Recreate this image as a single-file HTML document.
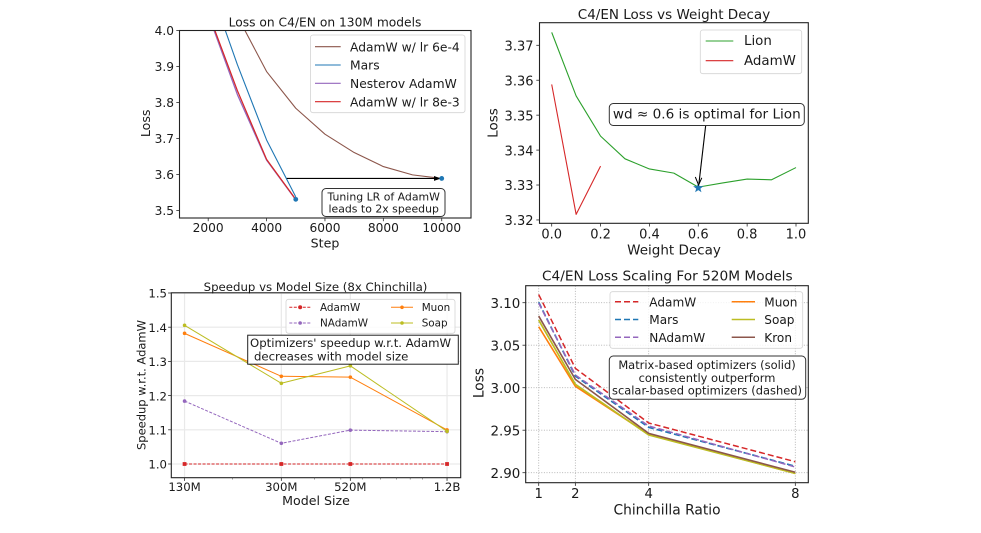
<!DOCTYPE html>
<html lang="en">
<head>
<meta charset="utf-8">
<title>Optimizer comparison charts</title>
<style>
html,body{margin:0;padding:0;background:#fff;width:981px;height:533px;overflow:hidden}
svg{display:block;font-family:"DejaVu Sans","Liberation Sans",sans-serif;filter:blur(0.3px)}
text{fill:#1a1a1a}
</style>
</head>
<body>
<svg id="figure" width="981" height="533" viewBox="0 0 981 533" xmlns="http://www.w3.org/2000/svg"></svg>
<script>
// Chart 1: Loss on C4/EN on 130M models
const lossSteps = [2000, 3000, 4000, 5000, 6000, 7000, 8000, 9000, 10000];
const lossStepsShort = [2000, 3000, 4000, 5000];
const adamw6e4Loss = [4.2, 4.04, 3.886, 3.784, 3.712, 3.661, 3.622, 3.599, 3.589];
const marsLoss = [4.135, 3.905, 3.696, 3.538];
const nesterovLoss = [4.045, 3.822, 3.64, 3.53];
const adamw8e3Loss = [4.05, 3.833, 3.642, 3.531];
const lossXTicks = [2000, 4000, 6000, 8000, 10000];
const lossYTicks = [3.5, 3.6, 3.7, 3.8, 3.9, 4.0];

// Chart 2: C4/EN Loss vs Weight Decay
const lionDecay = [0, 0.1, 0.2, 0.3, 0.4, 0.5, 0.6, 0.7, 0.8, 0.9, 1.0];
const lionWdLoss = [3.3737, 3.3555, 3.344, 3.3375, 3.3346, 3.3334, 3.3294, 3.3306, 3.3317, 3.3315, 3.335];
const adamwDecay = [0, 0.1, 0.2];
const adamwWdLoss = [3.3588, 3.3216, 3.3354];
const wdXTicks = [0, 0.2, 0.4, 0.6, 0.8, 1.0];
const wdYTicks = [3.32, 3.33, 3.34, 3.35, 3.36, 3.37];

// Chart 3: Speedup vs Model Size
const modelSizes = [133, 302, 542, 1230];
const modelSizeLabels = ['130M', '300M', '520M', '1.2B'];
const modelMinorTicks = [200, 400, 500, 600, 700, 800, 900, 1000];
const adamwSpeedup = [1.0, 1.0, 1.0, 1.0];
const nadamwSpeedup = [1.184, 1.0605, 1.099, 1.0945];
const muonSpeedup = [1.382, 1.2565, 1.254, 1.0995];
const soapSpeedup = [1.4055, 1.236, 1.287, 1.0955];
const speedupYTicks = [1.0, 1.1, 1.2, 1.3, 1.4, 1.5];

// Chart 4: C4/EN Loss Scaling For 520M Models
const chinchillaRatios = [1, 2, 4, 8];
const adamwScaling = [3.1096, 3.0228, 2.9585, 2.9129];
const marsScaling = [3.1005, 3.0137, 2.9534, 2.9075];
const nadamwScaling = [3.0995, 3.0149, 2.955, 2.9067];
const muonScaling = [3.0718, 3.0016, 2.9452, 2.8992];
const soapScaling = [3.0796, 3.004, 2.9444, 2.8992];
const kronScaling = [3.0843, 3.0098, 2.9463, 2.9005];
const scalingYTicks = [2.90, 2.95, 3.00, 3.05, 3.10];

const RED = '#d62728', BLUE = '#1f77b4', PURPLE = '#9467bd', BROWN = '#8c564b',
      ORANGE = '#ff7f0e', OLIVE = '#bcbd22', GREEN = '#2ca02c';
const NS = 'http://www.w3.org/2000/svg';
const root = document.getElementById('figure');

function node(parent, tag, attrs, name) {
  const el = document.createElementNS(NS, tag);
  for (const k in attrs) el.setAttribute(k, attrs[k]);
  
  
  parent.appendChild(el);
  return el;
}
function group(parent, name) { return node(parent, 'g', {}, name); }
function label(parent, str, x, y, size, anchor, name, rotate) {
  const a = {x: x, y: rotate ? y : y + 0.7, 'font-size': size, 'text-anchor': anchor || 'middle', 'dominant-baseline': 'central'};
  if (rotate) a.transform = 'rotate(-90 ' + x + ' ' + y + ')';
  const t = node(parent, 'text', a, name);
  t.setAttribute('xml:space', 'preserve');
  t.textContent = str;
  return t;
}
function seg(parent, x1, y1, x2, y2, stroke, w, name, dash) {
  const a = {x1: x1, y1: y1, x2: x2, y2: y2, stroke: stroke, 'stroke-width': w};
  if (dash) a['stroke-dasharray'] = dash;
  return node(parent, 'line', a, name);
}
function polyline(parent, xs, ys, sx, sy, stroke, w, name, dash, clip) {
  const pts = xs.map((x, i) => sx(x).toFixed(2) + ',' + sy(ys[i]).toFixed(2)).join(' ');
  const a = {points: pts, fill: 'none', stroke: stroke, 'stroke-width': w, 'stroke-linejoin': 'round'};
  if (dash) a['stroke-dasharray'] = dash;
  if (clip) a['clip-path'] = 'url(#' + clip + ')';
  return node(parent, 'polyline', a, name);
}
function frame(parent, box, clipId) {
  const defs = document.createElementNS(NS, 'defs');
  const cp = document.createElementNS(NS, 'clipPath');
  cp.setAttribute('id', clipId);
  const r = document.createElementNS(NS, 'rect');
  r.setAttribute('x', box.l); r.setAttribute('y', box.t);
  r.setAttribute('width', box.r - box.l); r.setAttribute('height', box.b - box.t);
  cp.appendChild(r); defs.appendChild(cp); parent.appendChild(defs);
}
function spines(parent, box) {
  node(parent, 'rect', {x: box.l, y: box.t, width: box.r - box.l, height: box.b - box.t, fill: 'none', stroke: '#222', 'stroke-width': 1.1}, 'axes-frame');
}
function legendBox(parent, x, y, w, h) {
  node(parent, 'rect', {x: x, y: y, width: w, height: h, rx: 2.5, fill: '#fff', 'fill-opacity': 0.8, stroke: '#d4d4d4', 'stroke-width': 0.8}, 'legend-frame');
}
function legendEntry(parent, name, text, x1, x2, tx, y, color, w, size, dash, marker) {
  const g = group(parent, name);
  seg(g, x1, y, x2, y, color, w, name + '-handle', dash);
  if (marker) node(g, 'circle', {cx: (x1 + x2) / 2, cy: y, r: marker, fill: color}, name + '-marker');
  label(g, text, tx, y, size, 'start', name + '-label');
}
function annotationBox(parent, name, x, y, w, h, rx, lines, size, anchor, tx, border) {
  const g = group(parent, name);
  node(g, 'rect', {x: x, y: y, width: w, height: h, rx: rx, fill: '#fff', stroke: border, 'stroke-width': 1}, name + '-box');
  lines.forEach(function (ln) { label(g, ln.t, ln.x === undefined ? tx : ln.x, ln.y, size, anchor, name + '-text'); });
}

/* ---------- Chart 1 ---------- */
(function () {
  const box = {l: 179.5, r: 471, t: 30.5, b: 218};
  const sx = v => 208.2 + (v - 2000) * 0.02919;
  const sy = v => 30.5 + (4 - v) * 360;
  const g = group(root, 'loss-vs-step-chart');
  frame(g, box, 'clip1');
  node(g, 'rect', {x: box.l, y: box.t, width: box.r - box.l, height: box.b - box.t, fill: '#fff'}, 'plot-area');
  const lines = group(g, 'loss-series');
  polyline(lines, lossSteps, adamw6e4Loss, sx, sy, BROWN, 1.1, 'series-adamw-lr-6e-4', null, 'clip1');
  polyline(lines, lossStepsShort, marsLoss, sx, sy, BLUE, 1.1, 'series-mars', null, 'clip1');
  polyline(lines, lossStepsShort, nesterovLoss, sx, sy, PURPLE, 1.3, 'series-nesterov-adamw', null, 'clip1');
  polyline(lines, lossStepsShort, adamw8e3Loss, sx, sy, RED, 1.2, 'series-adamw-lr-8e-3', null, 'clip1');
  const ay = sy(adamw6e4Loss[8]);
  seg(g, 286.7, ay, 436, ay, '#000', 1.1, 'speedup-arrow-shaft');
  node(g, 'polygon', {points: '441,' + ay + ' 434,' + (ay - 2.4) + ' 434,' + (ay + 2.4), fill: '#000'}, 'speedup-arrow-head');
  node(g, 'circle', {cx: sx(lossSteps[8]), cy: ay, r: 2.4, fill: BLUE}, 'end-marker-adamw-6e-4');
  node(g, 'circle', {cx: sx(lossStepsShort[3]), cy: sy(adamw8e3Loss[3]), r: 2.4, fill: BLUE}, 'end-marker-adamw-8e-3');
  spines(g, box);
  lossXTicks.forEach(function (v) {
    seg(g, sx(v), box.b, sx(v), box.b + 3.2, '#2a2a2a', 0.8, 'x-tick');
    label(g, String(v), sx(v), 227.5, 12.2, 'middle', 'x-tick-label');
  });
  lossYTicks.forEach(function (v) {
    seg(g, box.l - 3.2, sy(v), box.l, sy(v), '#2a2a2a', 0.8, 'y-tick');
    label(g, v.toFixed(1), 174, sy(v), 12.2, 'end', 'y-tick-label');
  });
  label(g, 'Loss on C4/EN on 130M models', 325, 22, 12.25, 'middle', 'chart-title');
  label(g, 'Step', 325, 242.5, 12.6, 'middle', 'x-axis-title');
  label(g, 'Loss', 145.7, 123.3, 12.6, 'middle', 'y-axis-title', true);
  const lg = group(g, 'legend');
  legendBox(lg, 310.5, 35, 154.5, 77.7);
  legendEntry(lg, 'legend-entry-adamw-6e-4', 'AdamW w/ lr 6e-4', 315, 340.7, 350, 46.7, BROWN, 1.1, 12.3);
  legendEntry(lg, 'legend-entry-mars', 'Mars', 315, 340.7, 350, 65, BLUE, 1.1, 12.3);
  legendEntry(lg, 'legend-entry-nesterov', 'Nesterov AdamW', 315, 340.7, 350, 83.3, PURPLE, 1.1, 12.3);
  legendEntry(lg, 'legend-entry-adamw-8e-3', 'AdamW w/ lr 8e-3', 315, 340.7, 350, 101.7, RED, 1.1, 12.3);
  annotationBox(g, 'speedup-annotation', 322, 188.5, 123, 28, 4,
    [{t: 'Tuning LR of AdamW', y: 196.5}, {t: 'leads to 2x speedup', y: 208.5}], 10.9, 'middle', 383.7, '#333');
})();

/* ---------- Chart 2 ---------- */
(function () {
  const box = {l: 539.5, r: 808.3, t: 22.7, b: 223.3};
  const sx = v => 551.7 + v * 244.3;
  const sy = v => 45.3 + (3.37 - v) * 3493;
  const g = group(root, 'loss-vs-weight-decay-chart');
  frame(g, box, 'clip2');
  node(g, 'rect', {x: box.l, y: box.t, width: box.r - box.l, height: box.b - box.t, fill: '#fff'}, 'plot-area');
  polyline(g, lionDecay, lionWdLoss, sx, sy, GREEN, 1.1, 'series-lion', null, 'clip2');
  polyline(g, adamwDecay, adamwWdLoss, sx, sy, RED, 1.1, 'series-adamw', null, 'clip2');
  const cx = sx(lionDecay[6]), cy = sy(lionWdLoss[6]) + 0.8;
  const star = [];
  for (let i = 0; i < 10; i++) {
    const rad = i % 2 ? 2.2 : 5.4, ang = -Math.PI / 2 + i * Math.PI / 5;
    star.push((cx + rad * Math.cos(ang)).toFixed(2) + ',' + (cy + rad * Math.sin(ang)).toFixed(2));
  }
  node(g, 'polygon', {points: star.join(' '), fill: BLUE}, 'optimal-weight-decay-star');
  seg(g, 705.7, 125.3, 699, 183, '#000', 1.1, 'optimal-arrow-shaft');
  node(g, 'polyline', {points: '695.3,177 698.6,185 701.8,177.8', fill: 'none', stroke: '#000', 'stroke-width': 1}, 'optimal-arrow-head');
  spines(g, box);
  wdXTicks.forEach(function (v) {
    seg(g, sx(v), box.b, sx(v), box.b + 3.2, '#2a2a2a', 0.8, 'x-tick');
    label(g, v.toFixed(1), sx(v), 234.3, 13, 'middle', 'x-tick-label');
  });
  wdYTicks.forEach(function (v) {
    seg(g, box.l - 3.2, sy(v), box.l, sy(v), '#2a2a2a', 0.8, 'y-tick');
    label(g, v.toFixed(2), 533.5, sy(v) + 1, 13, 'end', 'y-tick-label');
  });
  label(g, 'C4/EN Loss vs Weight Decay', 674, 14.3, 13.5, 'middle', 'chart-title');
  label(g, 'Weight Decay', 674, 250, 13.5, 'middle', 'x-axis-title');
  label(g, 'Loss', 493.3, 123, 13.5, 'middle', 'y-axis-title', true);
  const lg = group(g, 'legend');
  legendBox(lg, 700.3, 30, 101.4, 43.7);
  legendEntry(lg, 'legend-entry-lion', 'Lion', 705.7, 733.3, 744, 41, GREEN, 1.1, 13.4);
  legendEntry(lg, 'legend-entry-adamw', 'AdamW', 705.7, 733.3, 744, 60.7, RED, 1.1, 13.4);
  annotationBox(g, 'optimal-annotation', 609.3, 103.5, 195, 22, 4,
    [{t: 'wd ≈ 0.6 is optimal for Lion', y: 114}], 13.6, 'middle', 706.8, '#333');
})();

/* ---------- Chart 3 ---------- */
(function () {
  const box = {l: 171.3, r: 460.7, t: 292.8, b: 477.7};
  const sx = v => 232.7 + Math.log(v / 200) * 118;
  const sy = v => 464 - (v - 1) * 342;
  const g = group(root, 'speedup-vs-model-size-chart');
  frame(g, box, 'clip3');
  node(g, 'rect', {x: box.l, y: box.t, width: box.r - box.l, height: box.b - box.t, fill: '#fff'}, 'plot-area');
  const grid = group(g, 'grid');
  modelSizes.forEach(function (v) { seg(grid, sx(v), box.t, sx(v), box.b, '#e9e9e9', 1.2, 'x-gridline'); });
  speedupYTicks.forEach(function (v) { seg(grid, box.l, sy(v), box.r, sy(v), '#e9e9e9', 1.2, 'y-gridline'); });
  function series(vals, color, name, dash, markerR, square) {
    const s = group(g, name);
    polyline(s, modelSizes, vals, sx, sy, color, 1, name + '-line', dash, 'clip3');
    vals.forEach(function (v, i) {
      if (square) node(s, 'rect', {x: sx(modelSizes[i]) - markerR, y: sy(v) - markerR, width: 2 * markerR, height: 2 * markerR, fill: color}, name + '-point');
      else node(s, 'circle', {cx: sx(modelSizes[i]), cy: sy(v), r: markerR, fill: color}, name + '-point');
    });
  }
  series(adamwSpeedup, RED, 'series-adamw', '3,1.5', 1.9, true);
  series(nadamwSpeedup, PURPLE, 'series-nadamw', '3,1.5', 1.8);
  series(muonSpeedup, ORANGE, 'series-muon', null, 1.8);
  series(soapSpeedup, OLIVE, 'series-soap', null, 1.8);
  spines(g, box);
  modelSizes.forEach(function (v, i) {
    seg(g, sx(v), box.b, sx(v), box.b + 3.2, '#2a2a2a', 0.8, 'x-tick');
    label(g, modelSizeLabels[i], sx(v), 486.3, 11.7, 'middle', 'x-tick-label');
  });
  modelMinorTicks.forEach(function (v) { seg(g, sx(v), box.b, sx(v), box.b + 1.8, '#555', 0.6, 'x-minor-tick'); });
  speedupYTicks.forEach(function (v) {
    seg(g, box.l - 3.2, sy(v), box.l, sy(v), '#2a2a2a', 0.8, 'y-tick');
    label(g, v.toFixed(1), 167, sy(v), 11.7, 'end', 'y-tick-label');
  });
  label(g, 'Speedup vs Model Size (8x Chinchilla)', 315.5, 286.3, 11.75, 'middle', 'chart-title');
  label(g, 'Model Size', 316, 500, 12.6, 'middle', 'x-axis-title');
  label(g, 'Speedup w.r.t. AdamW', 141.7, 385, 11.5, 'middle', 'y-axis-title', true);
  const lg = group(g, 'legend');
  legendBox(lg, 286, 299.3, 169, 34);
  legendEntry(lg, 'legend-entry-adamw', 'AdamW', 289.3, 311, 320, 307.3, RED, 1, 10.4, '3,1.5', 2);
  legendEntry(lg, 'legend-entry-nadamw', 'NAdamW', 289.3, 311, 320, 323, PURPLE, 1, 10.4, '3,1.5', 1.8);
  legendEntry(lg, 'legend-entry-muon', 'Muon', 391, 413, 421.7, 307.3, ORANGE, 1, 10.4, null, 1.8);
  legendEntry(lg, 'legend-entry-soap', 'Soap', 391, 413, 421.7, 323, OLIVE, 1, 10.4, null, 1.8);
  annotationBox(g, 'model-size-annotation', 247.7, 335.2, 210.6, 29, 0,
    [{t: "Optimizers' speedup w.r.t. AdamW", x: 250, y: 342.3}, {t: 'decreases with model size', x: 254, y: 355.7}], 11.7, 'start', 250, '#222');
})();

/* ---------- Chart 4 ---------- */
(function () {
  const box = {l: 525.7, r: 808.3, t: 285.7, b: 482.7};
  const sx = v => 538.7 + (v - 1) * 36.66;
  const sy = v => 472.7 - (v - 2.9) * 850;
  const g = group(root, 'loss-scaling-chart');
  frame(g, box, 'clip4');
  node(g, 'rect', {x: box.l, y: box.t, width: box.r - box.l, height: box.b - box.t, fill: '#fff'}, 'plot-area');
  const grid = group(g, 'grid');
  chinchillaRatios.forEach(function (v) { seg(grid, sx(v), box.t, sx(v), box.b, '#b0b0b0', 0.9, 'x-gridline', '1,1.6'); });
  scalingYTicks.forEach(function (v) { seg(grid, box.l, sy(v), box.r, sy(v), '#b0b0b0', 0.9, 'y-gridline', '1,1.6'); });
  polyline(g, chinchillaRatios, adamwScaling, sx, sy, RED, 1.5, 'series-adamw', '6,3', 'clip4');
  polyline(g, chinchillaRatios, marsScaling, sx, sy, BLUE, 1.7, 'series-mars', '6,3', 'clip4');
  polyline(g, chinchillaRatios, nadamwScaling, sx, sy, PURPLE, 1.5, 'series-nadamw', '6,3', 'clip4');
  polyline(g, chinchillaRatios, muonScaling, sx, sy, ORANGE, 1.6, 'series-muon', null, 'clip4');
  polyline(g, chinchillaRatios, soapScaling, sx, sy, OLIVE, 1.7, 'series-soap', null, 'clip4');
  polyline(g, chinchillaRatios, kronScaling, sx, sy, BROWN, 1.6, 'series-kron', null, 'clip4');
  spines(g, box);
  chinchillaRatios.forEach(function (v) {
    seg(g, sx(v), box.b, sx(v), box.b + 3.2, '#2a2a2a', 0.8, 'x-tick');
    label(g, String(v), sx(v), 494, 13.2, 'middle', 'x-tick-label');
  });
  scalingYTicks.forEach(function (v) {
    seg(g, box.l - 3.2, sy(v), box.l, sy(v), '#2a2a2a', 0.8, 'y-tick');
    label(g, v.toFixed(2), 520.3, sy(v) + 1, 13.4, 'end', 'y-tick-label');
  });
  label(g, 'C4/EN Loss Scaling For 520M Models', 667.3, 276, 13.7, 'middle', 'chart-title');
  label(g, 'Chinchilla Ratio', 667, 510, 13.8, 'middle', 'x-axis-title');
  label(g, 'Loss', 479.5, 383, 13.8, 'middle', 'y-axis-title', true);
  const lg = group(g, 'legend');
  legendBox(lg, 610, 291.7, 192.7, 56.6);
  legendEntry(lg, 'legend-entry-adamw', 'AdamW', 615, 638.3, 649.3, 301.7, RED, 1.5, 12.1, '6,3');
  legendEntry(lg, 'legend-entry-mars', 'Mars', 615, 638.3, 649.3, 319.5, BLUE, 1.5, 12.1, '6,3');
  legendEntry(lg, 'legend-entry-nadamw', 'NAdamW', 615, 638.3, 649.3, 337.3, PURPLE, 1.5, 12.1, '6,3');
  legendEntry(lg, 'legend-entry-muon', 'Muon', 731.7, 755, 764.3, 301.7, ORANGE, 1.5, 12.1);
  legendEntry(lg, 'legend-entry-soap', 'Soap', 731.7, 755, 764.3, 319.5, OLIVE, 1.5, 12.1);
  legendEntry(lg, 'legend-entry-kron', 'Kron', 731.7, 755, 764.3, 337.3, BROWN, 1.5, 12.1);
  annotationBox(g, 'matrix-optimizers-annotation', 609.3, 356, 196.4, 43.3, 4,
    [{t: 'Matrix-based optimizers (solid)', y: 364.5}, {t: 'consistently outperform', y: 377.3}, {t: 'scalar-based optimizers (dashed)', y: 389.8}],
    11.45, 'middle', 707, '#333');
})();
</script>
</body>
</html>
